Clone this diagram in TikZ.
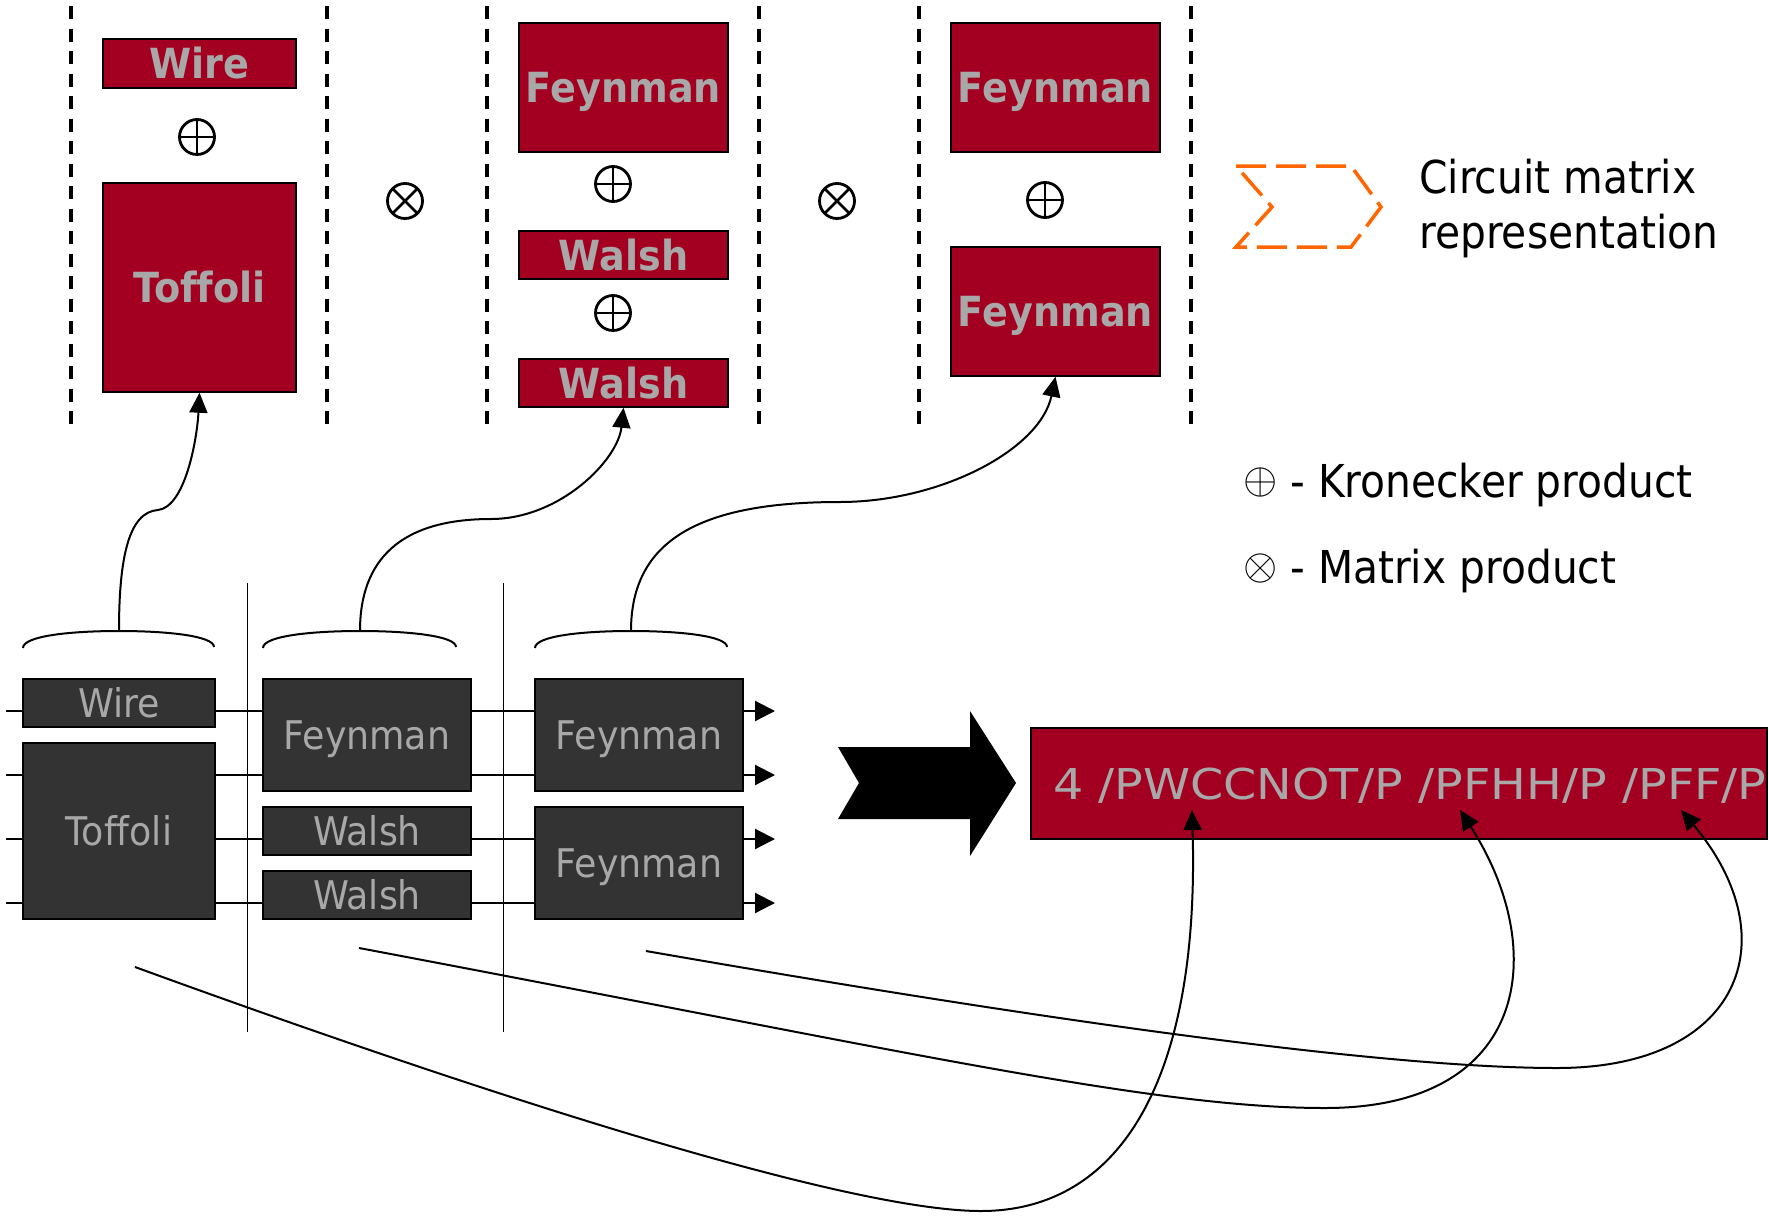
\documentclass[tikz,border=0pt]{standalone}
\usepackage{graphicx}
\usepackage{fontspec}
\setmainfont{DejaVu Sans}
\newfontfamily\legendfont[FakeStretch=0.9]{DejaVu Sans}
\newfontfamily\gatefont[FakeStretch=0.92, Ligatures=NoCommon]{DejaVu Sans}
\newfontfamily\codefont[FakeStretch=1.12]{DejaVu Sans}
\usetikzlibrary{arrows.meta}

\definecolor{gatered}{RGB}{163,0,33}
\definecolor{gatetext}{RGB}{168,168,168}
\definecolor{gatedark}{RGB}{51,51,51}
\definecolor{legendorange}{RGB}{255,102,0}

% large operator symbols for the legend
\newcommand{\bigop}[1]{\raisebox{4pt}{\scalebox{4.4}{\normalsize$#1$}}}

\begin{document}
\begin{tikzpicture}[x=1pt, y=-1pt,
  redgate/.style={draw=black, line width=1.5pt, fill=gatered, text=gatetext,
    font=\gatefont\bfseries\fontsize{41.5}{45}\selectfont,
    inner sep=0pt, text height=30pt, text depth=0pt},
  darkgate/.style={draw=black, line width=1.5pt, fill=gatedark, text=gatetext,
    font=\gatefont\fontsize{39.5}{44}\selectfont,
    inner sep=0pt, text height=28.8pt, text depth=0pt},
  resultbox/.style={draw=black, line width=1.5pt, fill=gatered, text=gatetext,
    font=\codefont\fontsize{42.5}{48}\selectfont,
    inner sep=0pt, text height=31pt, text depth=0pt},
  oplus/.style={circle, draw, line width=2.8pt, minimum size=35pt, inner sep=0pt,
    path picture={\draw[line width=2.8pt]
      (path picture bounding box.north) -- (path picture bounding box.south)
      (path picture bounding box.west) -- (path picture bounding box.east);}},
  otimes/.style={circle, draw, line width=2.8pt, minimum size=35pt, inner sep=0pt,
    path picture={\draw[line width=2.8pt]
      (path picture bounding box.north east) -- (path picture bounding box.south west)
      (path picture bounding box.north west) -- (path picture bounding box.south east);}},
  legendtext/.style={anchor=base west, inner sep=0pt,
    font=\legendfont\fontsize{45.3}{54}\selectfont},
  sepline/.style={line width=3.5pt, dash pattern=on 13pt off 9.5pt},
  stageline/.style={line width=1.5pt},
  brace/.style={line width=2pt},
  link/.style={line width=2pt, -{Triangle[length=20pt,width=18pt]}},
  qwire/.style={line width=2.2pt, -{Triangle[length=20pt,width=20pt]}},
]
\useasboundingbox (0,0) rectangle (1769,1218);
\fill[white] (0,0) rectangle (1769,1218);

% ---------- matrix form: dashed column separators ----------
\foreach \sx in {71,327,487,759,919,1191}
  \draw[sepline] (\sx,6) -- (\sx,424);

% column 1
\node[redgate, minimum width=193pt, minimum height=49pt] (wireR) at (199.5,63.5) {Wire};
\node[oplus] (kp1) at (197,137) {};
\node[redgate, minimum width=193pt, minimum height=209pt] (toffR) at (199.5,287.5) {Toffoli};
\node[otimes] (mp1) at (405,201) {};
% column 2
\node[redgate, minimum width=209pt, minimum height=129pt] (feyA) at (623.5,87.5) {Feynman};
\node[oplus] (kp2) at (613,184) {};
\node[redgate, minimum width=209pt, minimum height=48pt] (walA) at (623.5,255) {Walsh};
\node[oplus] (kp3) at (613,313) {};
\node[redgate, minimum width=209pt, minimum height=48pt] (walB) at (623.5,383) {Walsh};
\node[otimes] (mp2) at (837,201) {};
% column 3
\node[redgate, minimum width=209pt, minimum height=129pt] (feyB) at (1055.5,87.5) {Feynman};
\node[oplus] (kp4) at (1045,200) {};
\node[redgate, minimum width=209pt, minimum height=129pt] (feyC) at (1055.5,311.5) {Feynman};

% ---------- legend ----------
\draw[legendorange, line width=3.5pt, dash pattern=on 30pt off 10pt]
  (1236,166) -- (1351,166) -- (1381,207) -- (1351,247) -- (1236,247) -- (1272,207) -- cycle;
\node[legendtext] (lgA) at (1419,193) {Circuit matrix};
\node[legendtext] (lgB) at (1419,248) {representation};
\node[legendtext] (lgK) at (1243,497) {\bigop{\oplus} - Kronecker product};
\node[legendtext] (lgM) at (1243,583) {\bigop{\otimes} - Matrix product};

% ---------- circuit ----------
\draw[stageline] (247.5,583) -- (247.5,1032);
\draw[stageline] (503.6,583) -- (503.6,1032);

\foreach \i/\wy in {1/711,2/775,3/839,4/903}{
  \coordinate (ws\i) at (6,\wy);
  \coordinate (we\i) at (775,\wy);
  \draw[qwire] (ws\i) -- (we\i);
}

\node[darkgate, minimum width=192pt, minimum height=48pt] (wireD) at (119,703) {Wire};
\node[darkgate, minimum width=192pt, minimum height=176pt] (toffD) at (119,831) {Toffoli};
\node[darkgate, minimum width=208pt, minimum height=112pt] (feyD1) at (367,735) {Feynman};
\node[darkgate, minimum width=208pt, minimum height=48pt] (walD1) at (367,831) {Walsh};
\node[darkgate, minimum width=208pt, minimum height=48pt] (walD2) at (367,895) {Walsh};
\node[darkgate, minimum width=208pt, minimum height=112pt] (feyD2) at (639,735) {Feynman};
\node[darkgate, minimum width=208pt, minimum height=112pt] (feyD3) at (639,863) {Feynman};

% stage braces
\coordinate (b1) at (119,631);
\coordinate (b2) at (360,631);
\coordinate (b3) at (631,631);
\draw[brace] (23,648) .. controls (23,636) and (70,631) .. (b1) .. controls (168,631) and (214,636) .. (214,647);
\draw[brace] (263,648) .. controls (263,636) and (311,631) .. (b2) .. controls (409,631) and (456,636) .. (456,647);
\draw[brace] (535,648) .. controls (535,636) and (582,631) .. (b3) .. controls (680,631) and (727,636) .. (727,647);

% stages to their matrix columns
\draw[link] (b1) .. controls (119,560) and (128,512) .. (158,510) .. controls (185,507) and (197,440) .. (toffR.south);
\draw[link] (b2) .. controls (360,560) and (400,519) .. (491,519) .. controls (560,519) and (618,460) .. (walB.south);
\draw[link] (b3) .. controls (631,540) and (700,502) .. (840,502) .. controls (940,502) and (1040,450) .. (feyC.south);

% ---------- conversion arrow and result ----------
\fill[black] (838,747) -- (970,747) -- (970,711) -- (1016,783) -- (970,856) -- (970,819) -- (838,819) -- (859,783) -- cycle;

\node[resultbox, minimum width=736pt, minimum height=111pt] (res) at (1399,783.5)
  {\makebox[692pt][l]{4 /PWCCNOT/P /PFHH/P /PFF/P}};

\coordinate (s1) at (135,967);
\coordinate (t1) at (1192,810);
\coordinate (s2) at (359,948);
\coordinate (t2) at (1460,810);
\coordinate (s3) at (646,951);
\coordinate (t3) at (1681,810);
\draw[link] (s1) .. controls (500,1100) and (850,1211) .. (981,1211) .. controls (1120,1211) and (1200,1080) .. (t1);
\draw[link] (s2) .. controls (900,1050) and (1150,1108) .. (1325,1108) .. controls (1530,1108) and (1550,950) .. (t2);
\draw[link] (s3) .. controls (1100,1030) and (1400,1068) .. (1557,1068) .. controls (1740,1068) and (1790,940) .. (t3);
\end{tikzpicture}
\end{document}
